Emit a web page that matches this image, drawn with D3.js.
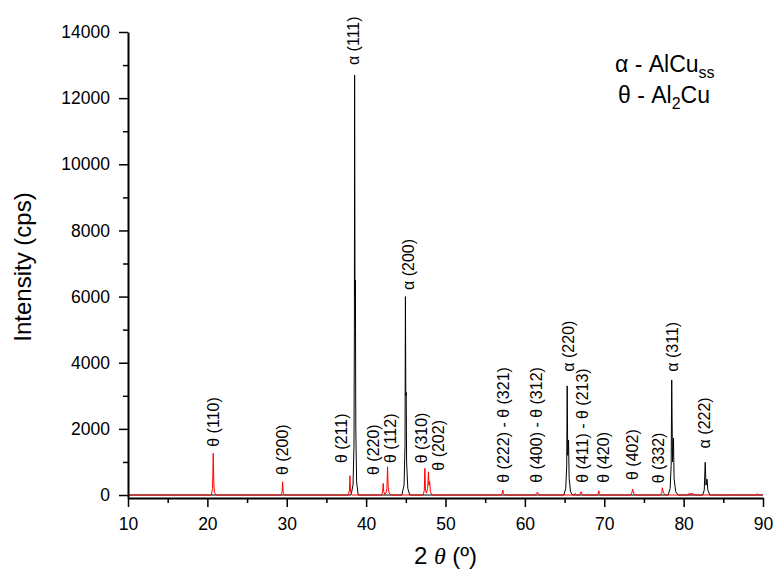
<!DOCTYPE html>
<html lang="en">

<head>
  <meta charset="UTF-8" />
  <title>XRD Pattern - AlCu</title>
  <script src="https://d3js.org/d3.v7.min.js"></script>
  <style>
    body {
      margin: 0;
      background: #fff;
      font-family: 'Liberation Sans', Arial, sans-serif;
    }
  </style>
</head>

<body>
  <div id="chart"></div>

  <script>
    // alpha (AlCu solid solution) pattern, [2theta, cps]
    const alphaPattern = [
      [10, 0], [38.1, 0], [38.35, 300], [38.47, 1500], [38.52, 5000], [38.55, 12700], [38.6, 6000],
      [38.65, 6500], [38.7, 2000], [38.8, 400], [39.0, 0],
      [44.5, 0], [44.78, 300], [44.9, 1500], [44.95, 6000], [45.0, 3000], [45.05, 3100], [45.1, 1000],
      [45.25, 200], [45.5, 0],
      [64.9, 0], [65.15, 200], [65.27, 900], [65.33, 3300], [65.4, 1200], [65.5, 1660], [65.58, 500],
      [65.75, 100], [66.0, 0],
      [78.05, 0], [78.3, 200], [78.43, 900], [78.5, 3480], [78.6, 1000], [78.72, 1720], [78.8, 500],
      [79.0, 100], [79.3, 0],
      [82.4, 0], [82.6, 150], [82.72, 990], [82.82, 300], [82.95, 480], [83.05, 150], [83.3, 0],
      [90, 0]
    ];

    // theta (Al2Cu) pattern, [2theta, cps]
    const thetaPattern = [
      [10, 0], [20.5, 0], [20.65, 200], [20.74, 1260], [20.82, 300], [20.9, 80], [21.1, 0],
      [29.3, 0], [29.42, 100], [29.48, 400], [29.55, 80], [29.7, 0],
      [37.75, 0], [37.9, 150], [37.96, 585], [38.03, 120], [38.2, 0],
      [41.95, 0], [42.08, 100], [42.15, 350], [42.22, 100], [42.35, 20], [42.5, 60], [42.62, 200],
      [42.7, 855], [42.78, 250], [42.9, 60], [43.1, 0],
      [47.2, 0], [47.33, 150], [47.4, 805], [47.48, 150], [47.6, 60], [47.75, 200], [47.85, 700],
      [47.92, 300], [48.0, 420], [48.1, 100], [48.3, 0],
      [57.0, 0], [57.15, 60], [57.22, 150], [57.3, 50], [57.5, 0],
      [61.35, 0], [61.5, 50], [61.58, 90], [61.65, 60], [61.8, 0],
      [66.2, 0], [66.35, 50], [66.5, 0], [66.9, 0], [67.0, 70], [67.08, 100], [67.2, 20], [67.4, 0],
      [69.1, 0], [69.25, 60], [69.32, 130], [69.4, 40], [69.6, 0],
      [73.35, 0], [73.5, 80], [73.57, 180], [73.65, 100], [73.75, 40], [73.9, 0],
      [77.1, 0], [77.25, 80], [77.32, 220], [77.4, 120], [77.5, 60], [77.7, 0],
      [80.6, 0], [80.7, 50], [80.8, 0], [80.95, 60], [81.05, 10], [81.15, 50], [81.3, 0],
      [85.9, 0], [86.0, 30], [86.1, 0],
      [89.2, 0], [89.3, 40], [89.4, 0], [89.6, 0], [89.7, 30], [89.8, 0], [90, 0]
    ];

    // peak labels: text, 2theta, cps where the label starts
    const peakLabels = ["θ (110)", "θ (200)", "θ (211)", "α (111)", "θ (220)", "θ (112)", "α (200)",
      "θ (310)", "θ (202)", "θ (222) - θ (321)", "θ (400) - θ (312)", "α (220)", "θ (411) - θ (213)",
      "θ (420)", "θ (402)", "θ (332)", "α (311)", "α (222)"];
    const peakLabelX = [20.7, 29.48, 36.91, 38.38, 40.9, 43.06, 45.3, 46.99, 49.08, 57.27, 61.47,
      65.45, 67.27, 69.86, 73.56, 76.79, 78.6, 82.67];
    const peakLabelY = [1460, 605, 968, 13000, 605, 968, 6200, 960, 735, 372, 372, 3730, 372, 372,
      455, 355, 3730, 1410];

    const xTicks = [10, 20, 30, 40, 50, 60, 70, 80, 90];
    const xMinorTicks = [15, 25, 35, 45, 55, 65, 75, 85];
    const yTicks = [0, 2000, 4000, 6000, 8000, 10000, 12000, 14000];
    const yMinorTicks = [1000, 3000, 5000, 7000, 9000, 11000, 13000];

    const width = 773;
    const height = 571;

    const svg = d3.select("#chart")
      .append("svg")
      .attr("width", width)
      .attr("height", height)
      .style("font-family", "'Liberation Sans', Arial, sans-serif");

    const x = d3.scaleLinear().domain([10, 90]).range([128, 763]);
    const y = d3.scaleLinear().domain([-90, 14000]).range([498, 32]);

    const line = d3.line()
      .x(d => x(d[0]))
      .y(d => y(d[1]));

    svg.append("path")
      .datum(alphaPattern)
      .attr("d", line)
      .attr("fill", "none")
      .attr("stroke", "#000")
      .attr("stroke-width", 1);

    svg.append("path")
      .datum(thetaPattern)
      .attr("d", line)
      .attr("fill", "none")
      .attr("stroke", "#ff0000")
      .attr("stroke-width", 1);

    // axes
    svg.append("g")
      .attr("transform", `translate(0,${y(-90)})`)
      .call(d3.axisBottom(x).tickValues(xTicks).tickSize(9).tickSizeOuter(0).tickPadding(11)
        .tickFormat(d3.format("d")));

    svg.append("g")
      .attr("transform", `translate(0,${y(-90)})`)
      .call(d3.axisBottom(x).tickValues(xMinorTicks).tickSize(5).tickSizeOuter(0).tickFormat(""))
      .call(g => g.select(".domain").remove());

    svg.append("g")
      .attr("transform", `translate(${x(10)},0)`)
      .call(d3.axisLeft(y).tickValues(yTicks).tickSize(9).tickSizeOuter(0).tickPadding(9)
        .tickFormat(d3.format("d")));

    svg.append("g")
      .attr("transform", `translate(${x(10)},0)`)
      .call(d3.axisLeft(y).tickValues(yMinorTicks).tickSize(5).tickSizeOuter(0).tickFormat(""))
      .call(g => g.select(".domain").remove());

    svg.selectAll(".domain").attr("stroke", "#000").attr("stroke-width", 2);
    svg.selectAll(".tick line").attr("stroke", "#000").attr("stroke-width", 1.5);
    svg.selectAll(".tick text")
      .attr("fill", "#000")
      .style("font-family", "'Liberation Sans', Arial, sans-serif")
      .style("font-size", "17.5px");

    // peak labels, rotated
    svg.append("g")
      .selectAll("text")
      .data(peakLabels)
      .join("text")
      .attr("transform", (d, i) => `translate(${x(peakLabelX[i])},${y(peakLabelY[i])}) rotate(-90)`)
      .attr("dy", "0.35em")
      .attr("text-anchor", "start")
      .attr("font-size", "16px")
      .attr("fill", "#000")
      .text(d => d);

    // axis titles
    svg.append("text")
      .attr("transform", `translate(31,${(y(-90) + y(14000)) / 2 + 2}) rotate(-90)`)
      .attr("text-anchor", "middle")
      .attr("font-size", "24px")
      .attr("fill", "#000")
      .text("Intensity (cps)");

    const xTitle = svg.append("text")
      .attr("x", (x(10) + x(90)) / 2)
      .attr("y", 564)
      .attr("text-anchor", "middle")
      .attr("font-size", "24px")
      .attr("fill", "#000");
    xTitle.append("tspan").text("2 ");
    xTitle.append("tspan").attr("font-style", "italic").attr("font-family", "'Liberation Serif', serif").text("θ");
    xTitle.append("tspan").text(" (º)");

    // phase legend
    const legend1 = svg.append("text")
      .attr("x", 615)
      .attr("y", 72)
      .attr("font-size", "23px")
      .attr("fill", "#000");
    legend1.append("tspan").text("α - AlCu");
    legend1.append("tspan").attr("dy", 6).attr("font-size", "16px").text("ss");

    const legend2 = svg.append("text")
      .attr("x", 618)
      .attr("y", 103)
      .attr("font-size", "23px")
      .attr("fill", "#000");
    legend2.append("tspan").text("θ - Al");
    legend2.append("tspan").attr("dy", 6).attr("font-size", "16px").text("2");
    legend2.append("tspan").attr("dy", -6).text("Cu");
  </script>
</body>

</html>
